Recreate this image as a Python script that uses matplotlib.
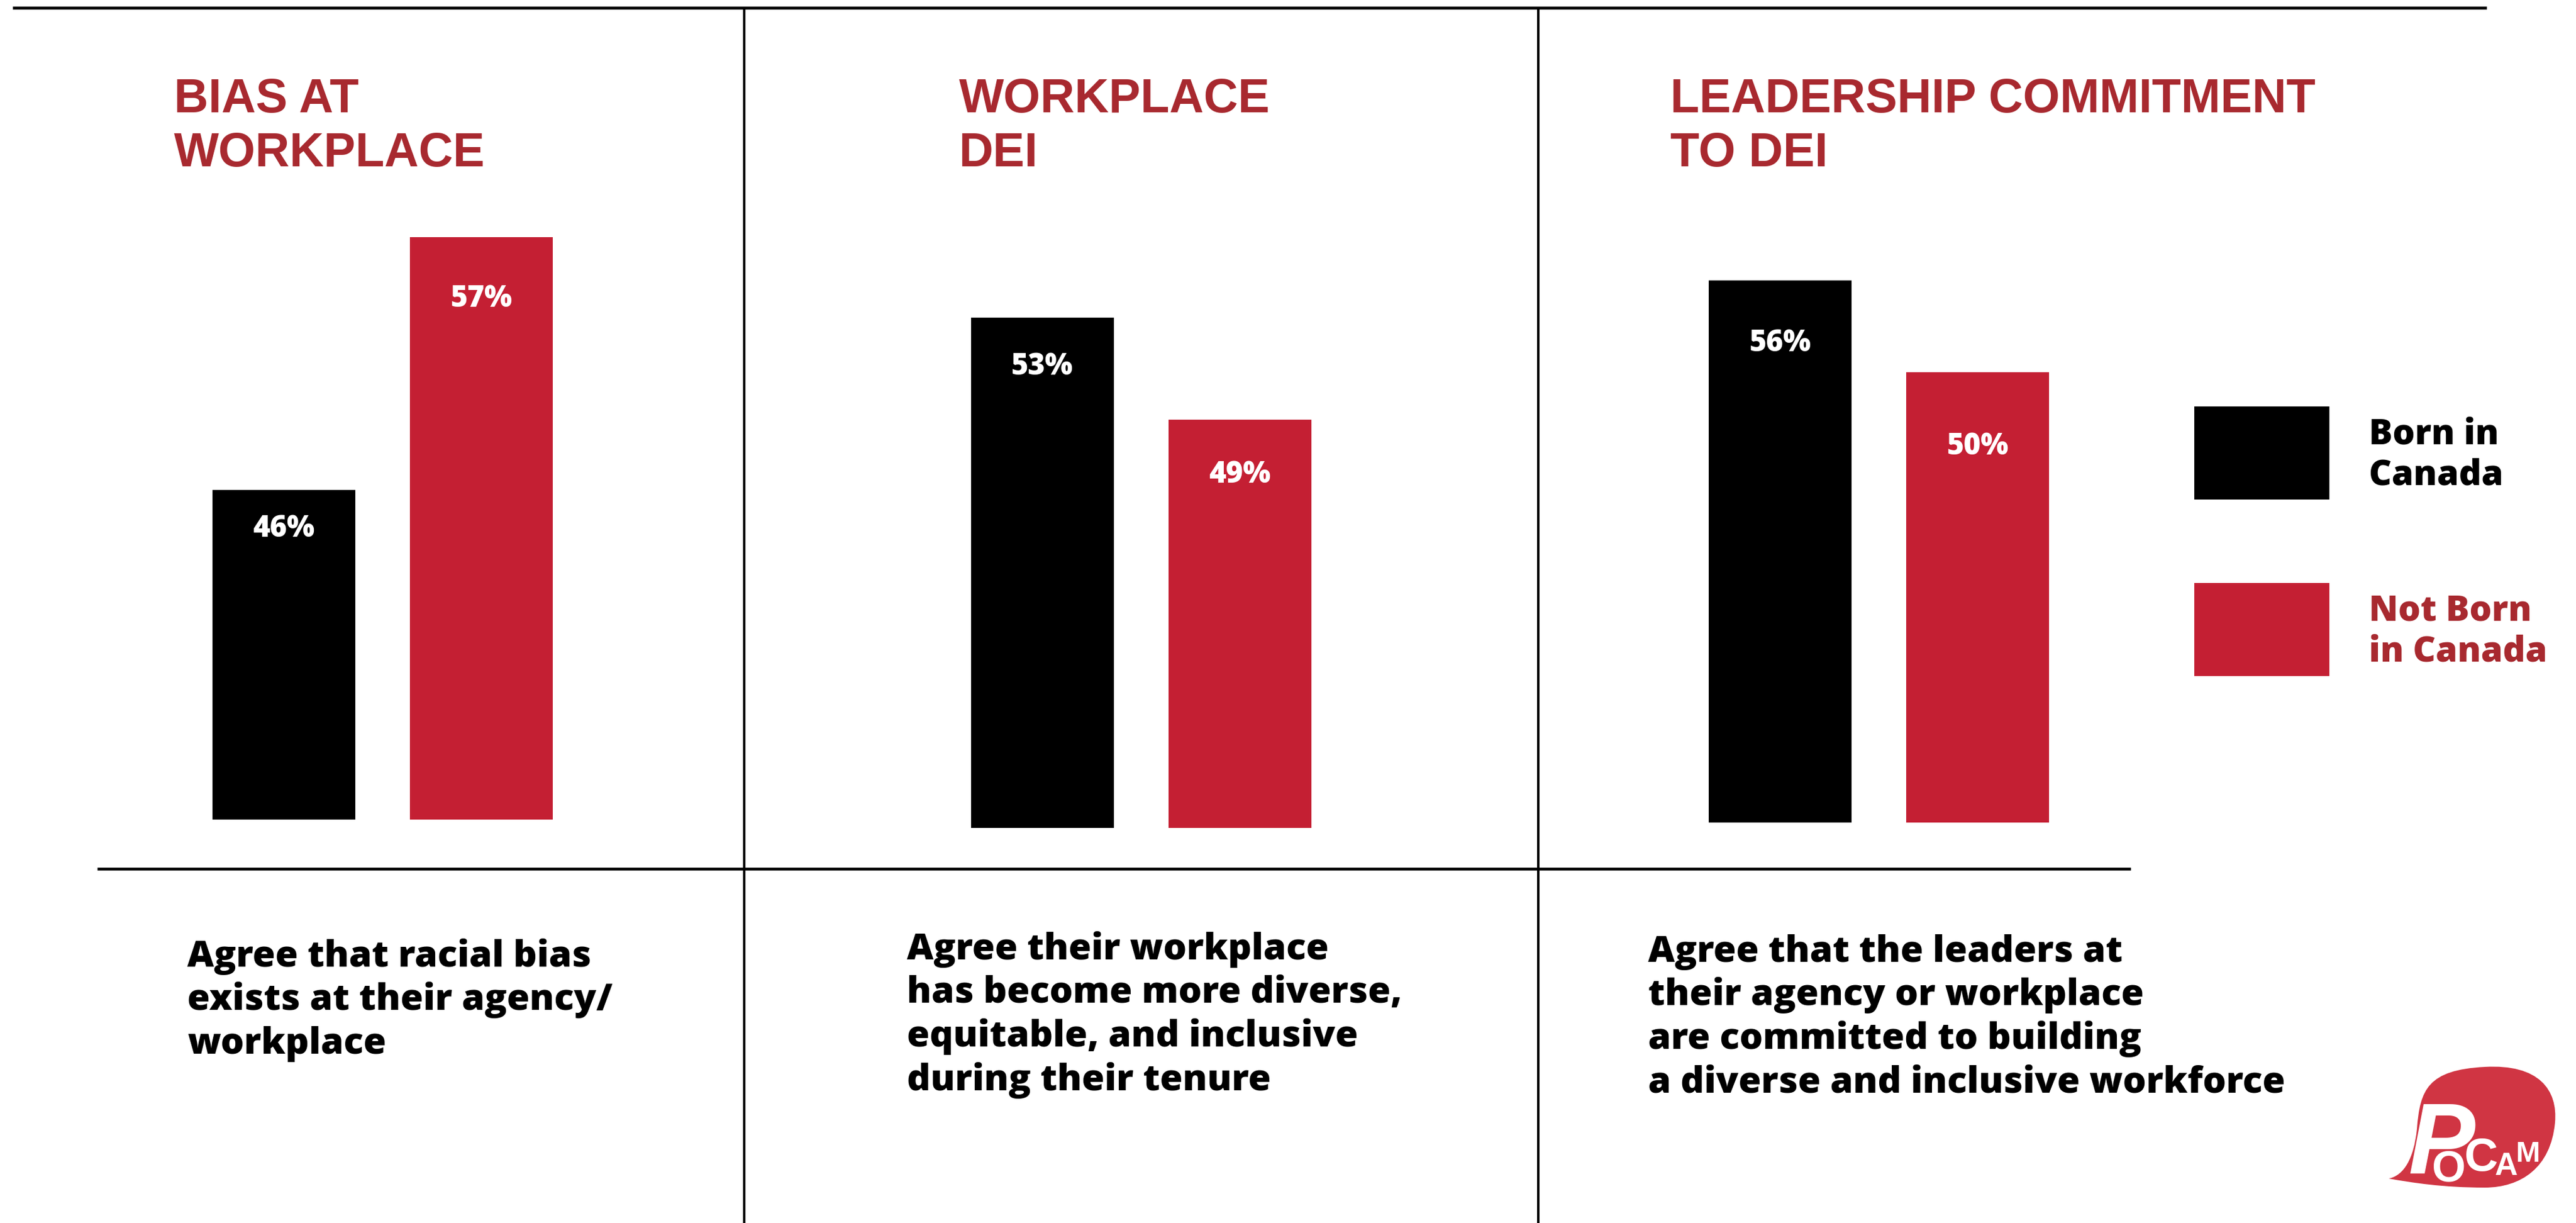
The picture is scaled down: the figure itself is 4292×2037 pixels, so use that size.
import matplotlib
matplotlib.use("Agg")
import matplotlib.pyplot as plt
from matplotlib import font_manager
from matplotlib.patches import Rectangle, PathPatch
from matplotlib.path import Path

# ---------------- data ----------------
panel_titles = ["BIAS AT\nWORKPLACE", "WORKPLACE\nDEI", "LEADERSHIP COMMITMENT\nTO DEI"]
series_names = ["Born in\nCanada", "Not Born\nin Canada"]
born_in_canada = [46, 53, 56]
not_born_in_canada = [57, 49, 50]
descriptions = [
    ["Agree that racial bias", "exists at their agency/", "workplace"],
    ["Agree their workplace", "has become more diverse,", "equitable, and inclusive", "during their tenure"],
    ["Agree that the leaders at", "their agency or workplace", "are committed to building", "a diverse and inclusive workforce"],
]

# ---------------- style ----------------
BLACK = "#000000"
RED = "#C41F33"
TITLE_RED = "#A8292F"
LOGO_RED = "#D03543"


def pick_font(candidates):
    for name in candidates:
        try:
            font_manager.findfont(font_manager.FontProperties(family=name),
                                  fallback_to_default=False)
            return name
        except Exception:
            continue
    return "DejaVu Sans"


TITLE_FONT = pick_font(["Liberation Sans", "Arial", "DejaVu Sans"])
BODY_FONT = pick_font(["Open Sans", "Lato", "DejaVu Sans"])
NARROW_FONT = pick_font(["Liberation Sans Narrow", "Liberation Sans", "DejaVu Sans"])

W, H = 4292, 2037
DPI = 100
fig = plt.figure(figsize=(W / DPI, H / DPI), dpi=DPI)
fig.patch.set_facecolor("white")

# overlay axes in pixel units (origin top-left) for rules, text and legend
ov = fig.add_axes([0, 0, 1, 1], zorder=5)
ov.set_xlim(0, W)
ov.set_ylim(H, 0)
ov.axis("off")
ov.patch.set_alpha(0)


def px_to_fig(x0, y_top, w, h):
    return [x0 / W, 1 - (y_top + h) / H, w / W, h / H]


# per-panel layout: first bar centre, baseline (px), axis floor value, px per point,
# and how far (px) each value label sits below its bar top
panel_layout = [
    dict(c0=473, bottom=1365, floor=31.65, ppt=38.27, label_drop=(65, 103)),
    dict(c0=1736.5, bottom=1379, floor=33.0, ppt=42.5, label_drop=(82, 92)),
    dict(c0=2966, bottom=1370, floor=20.6, ppt=25.5, label_drop=(105, 124)),
]
spacing = 329
bar_w = 238 / spacing
axes_top = 300

for i, lay in enumerate(panel_layout):
    hpx = lay["bottom"] - axes_top
    left = lay["c0"] - 0.5 * spacing
    ax = fig.add_axes(px_to_fig(left, axes_top, 2 * spacing, hpx), zorder=2)
    ax.set_xlim(-0.5, 1.5)
    ax.set_ylim(lay["floor"], lay["floor"] + hpx / lay["ppt"])
    ax.axis("off")
    vals = [born_in_canada[i], not_born_in_canada[i]]
    ax.bar([0, 1], vals, width=bar_w, color=[BLACK, RED], linewidth=0)
    for x, v, drop in zip([0, 1], vals, lay["label_drop"]):
        ax.annotate(f"{v}%", xy=(x, v), xytext=(0, -drop * 0.72), textcoords="offset points",
                    ha="center", va="center", color="white", fontsize=35,
                    fontweight=800, family=BODY_FONT)

# panel titles
title_x = [290, 1598, 2783]
for tx, t in zip(title_x, panel_titles):
    for j, line in enumerate(t.split("\n")):
        ov.text(tx, 187 + 90 * j, line, ha="left", va="baseline", color=TITLE_RED,
                fontsize=57, fontweight="bold", family=TITLE_FONT)

# descriptions
desc_x = [312, 1511, 2746]
desc_y0 = [1610, 1598, 1602]
for dx, dy, lines in zip(desc_x, desc_y0, descriptions):
    for j, line in enumerate(lines):
        ov.text(dx, dy + 72.5 * j, line, ha="left", va="baseline", color=BLACK,
                fontsize=44, fontweight=800, family=BODY_FONT)

# rules
ov.plot([21, 4143], [12.5, 12.5], color=BLACK, lw=3.6, solid_capstyle="butt")
ov.plot([162, 3550], [1447, 1447], color=BLACK, lw=3.4, solid_capstyle="butt")
for vx in (1240, 2563):
    ov.plot([vx, vx], [16, H], color=BLACK, lw=2.9, solid_capstyle="butt")

# legend
leg_tops = [677, 971]
leg_cols = [BLACK, RED]
leg_text_cols = [BLACK, TITLE_RED]
for top, col, tcol, name in zip(leg_tops, leg_cols, leg_text_cols, series_names):
    ov.add_patch(Rectangle((3656, top), 225, 155, facecolor=col, edgecolor="none"))
    for j, line in enumerate(name.split("\n")):
        ov.text(3947, top + 63 + 68 * j, line, ha="left", va="baseline", color=tcol,
                fontsize=42, fontweight=800, family=BODY_FONT)

# speech-bubble logo
verts = [
    (3980, 1963),
    (4005, 1958), (4022, 1930), (4027, 1880),
    (4032, 1815), (4045, 1782), (4140, 1777),
    (4230, 1772), (4262, 1815), (4257, 1870),
    (4250, 1945), (4200, 1978), (4140, 1978),
    (4070, 1978), (4020, 1970), (3980, 1963),
    (3980, 1963),
]
codes = [Path.MOVETO] + [Path.CURVE4] * 15 + [Path.CLOSEPOLY]
ov.add_patch(PathPatch(Path(verts, codes), facecolor=LOGO_RED, edgecolor="none"))
logo_letters = [
    ("P", 4068, 1955, 120, NARROW_FONT, "italic"),
    ("O", 4080, 1967, 52, TITLE_FONT, "normal"),
    ("C", 4134, 1950, 56, TITLE_FONT, "normal"),
    ("A", 4176, 1957, 38, TITLE_FONT, "normal"),
    ("M", 4212, 1935, 35, TITLE_FONT, "normal"),
]
for ch, lx, ly, fs, fam, sty in logo_letters:
    ov.text(lx, ly, ch, ha="center", va="baseline", color="white", fontsize=fs,
            fontweight="bold", family=fam, style=sty)

fig.savefig("out.png", dpi=DPI, facecolor="white")
